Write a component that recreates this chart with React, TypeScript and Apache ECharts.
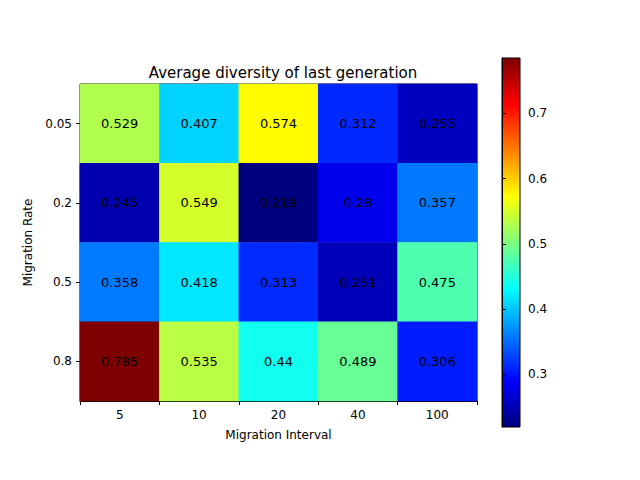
import { useRef, useEffect } from "react";
import * as echarts from "echarts";

const intervals = ["5", "10", "20", "40", "100"];
const rates = ["0.05", "0.2", "0.5", "0.8"];
const values = [
  [0.529, 0.407, 0.574, 0.312, 0.255],
  [0.245, 0.549, 0.219, 0.28, 0.357],
  [0.358, 0.418, 0.313, 0.251, 0.475],
  [0.785, 0.535, 0.44, 0.489, 0.306],
];
const colorbarTicks = [0.3, 0.4, 0.5, 0.6, 0.7];
const vMin = 0.219;
const vMax = 0.785;
const jet = ["#00007f", "#0000ff", "#007fff", "#00ffff", "#7fff7f", "#ffff00", "#ff7f00", "#ff0000", "#7f0000"];

const App = () => {
  const chartRef = useRef<HTMLDivElement>(null);
  useEffect(() => {
    document.body.style.margin = "0";
    if (!chartRef.current) return;
    const myChart = echarts.init(chartRef.current, null, { renderer: "svg" });
    const data: any[] = [];
    values.forEach((row, r) => row.forEach((v, c) => data.push([c, r, v])));
    const font = "DejaVu Sans";
    const axisCommon = {
      axisLine: { show: true, lineStyle: { color: "#000" } },
      axisTick: { show: true, lineStyle: { color: "#000" }, length: 4 },
      axisLabel: { color: "#000", fontSize: 12, fontFamily: font },
      nameTextStyle: { color: "#000", fontSize: 12, fontFamily: font },
    };
    myChart.setOption({
      animation: false,
      title: {
        text: "Average diversity of last generation",
        left: 278,
        top: 60,
        textAlign: "center",
        textStyle: { fontSize: 15, fontWeight: "normal", color: "#000", fontFamily: font },
      },
      grid: [
        { left: 80, top: 84, width: 397, height: 317, show: true, borderColor: "#000", borderWidth: 1 },
        { left: 502, top: 58, width: 18, height: 369, show: true, borderColor: "#000", borderWidth: 1 },
      ],
      visualMap: {
        show: false,
        min: vMin,
        max: vMax,
        seriesIndex: 0,
        inRange: { color: jet },
      },
      xAxis: [
        {
          ...axisCommon,
          type: "category",
          data: intervals,
          gridIndex: 0,
          name: "Migration Interval",
          nameLocation: "middle",
          nameGap: 28,
          splitArea: { show: false },
        },
        { type: "value", gridIndex: 1, show: false, min: 0, max: 1 },
      ],
      yAxis: [
        {
          ...axisCommon,
          type: "category",
          data: rates,
          inverse: true,
          gridIndex: 0,
          name: "Migration Rate",
          nameLocation: "middle",
          nameGap: 45,
          axisTick: { ...axisCommon.axisTick, alignWithLabel: true },
        },
        {
          ...axisCommon,
          type: "value",
          gridIndex: 1,
          position: "right",
          min: vMin,
          max: vMax,
          splitLine: { show: false },
          axisLabel: {
            ...axisCommon.axisLabel,
            customValues: colorbarTicks,
            formatter: (v: number) => v.toFixed(1),
          },
          axisTick: { ...axisCommon.axisTick, customValues: colorbarTicks },
        },
      ],
      graphic: [
        {
          type: "rect",
          shape: { x: 502, y: 58, width: 18, height: 369 },
          z: -1,
          style: {
            fill: new echarts.graphic.LinearGradient(
              0, 1, 0, 0,
              jet.map((c, i) => ({ offset: i / (jet.length - 1), color: c }))
            ),
          },
        },
      ],
      series: [
        {
          type: "heatmap",
          data,
          xAxisIndex: 0,
          yAxisIndex: 0,
          label: {
            show: true,
            color: "#000",
            fontSize: 13,
            fontFamily: font,
            formatter: (p: any) => String(p.value[2]),
          },
        },
      ],
    });
    return () => myChart.dispose();
  }, []);
  return <div ref={chartRef} style={{ width: 640, height: 480 }}></div>;
};

export default App;
